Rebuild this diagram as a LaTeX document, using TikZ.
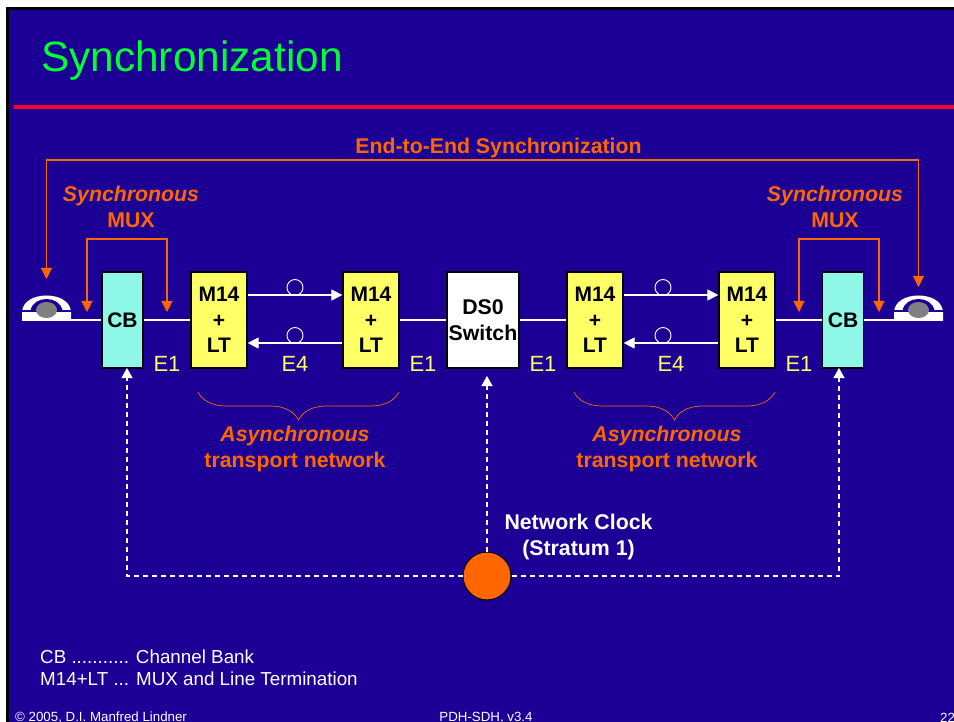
\documentclass[tikz,border=0pt]{standalone}
\usepackage{fontspec}
\setmainfont{Liberation Sans}
\usetikzlibrary{arrows.meta, decorations.pathreplacing}

\definecolor{slideblue}{HTML}{1C0096}
\definecolor{titlegreen}{HTML}{00FF33}
\definecolor{rulered}{HTML}{FF0033}
\definecolor{syncorange}{HTML}{FF6600}
\definecolor{labelyellow}{HTML}{FFFF66}
\definecolor{bankcyan}{HTML}{8FF7E8}

\tikzset{
	bank/.style = {draw = black, line width = 1.2pt, fill = bankcyan, minimum width = 41pt, minimum height = 96pt, inner sep = 0pt, font = \fontsize{21}{24}\selectfont\bfseries},
	mux/.style = {draw = black, line width = 1.2pt, fill = labelyellow, minimum width = 56pt, minimum height = 96pt, inner sep = 0pt, align = center, font = \fontsize{21}{25.5}\selectfont\bfseries},
	link/.style = {white, line width = 1.1pt},
	linktip/.style = {-{Triangle[width = 11pt, length = 11pt]}},
	sync/.style = {syncorange, line width = 1.1pt, -{Triangle[width = 11pt, length = 11pt]}},
	clockline/.style = {white, line width = 1.2pt, dash pattern = on 5pt off 4pt, -{Triangle[width = 11pt, length = 10pt]}},
	loopmark/.style = {circle, draw = white, line width = 0.9pt, minimum size = 16pt, inner sep = 0pt},
	rate/.style = {labelyellow, inner sep = 0pt, font = \fontsize{22}{24}\selectfont},
	orangetext/.style = {syncorange, inner sep = 0pt, align = center, font = \fontsize{21.3}{26}\selectfont\bfseries},
	transportbrace/.style = {syncorange, line width = 0.7pt, decorate, decoration = {brace, mirror, amplitude = 28pt}},
	legendtext/.style = {white, inner sep = 0pt, anchor = west, font = \fontsize{18.8}{22}\selectfont},
	foot/.style = {white, inner sep = 0pt, font = \fontsize{13.3}{14}\selectfont}
}

\begin{document}
\begin{tikzpicture}[x = 1pt, y = -1pt]
	\useasboundingbox (0,0) rectangle (954,722);
	
	% slide
	\fill [white] (0,0) rectangle (954,722);
	\fill [black] (6,7) rectangle (954,722);
	\fill [slideblue] (9,10) rectangle (954,722);
	\draw [rulered, line width = 4pt] (14,106.7) -- (954,106.7);
	\node [titlegreen, inner sep = 0pt, font = \fontsize{42.4}{48}\selectfont] (title) at (192,61) {Synchronization};
	
	% equipment
	\node [bank] (cb left) at (122.5,320) {CB};
	\node [mux] (mux a) at (219,320) {M14\\+\\LT};
	\node [mux] (mux b) at (371,320) {M14\\+\\LT};
	\node [draw = black, line width = 1.2pt, fill = white, minimum width = 72pt, minimum height = 96pt, inner sep = 0pt, align = center, font = \fontsize{21.3}{25.5}\selectfont\bfseries] (switch) at (483,320) {DS0\\Switch};
	\node [mux] (mux c) at (595,320) {M14\\+\\LT};
	\node [mux] (mux d) at (747,320) {M14\\+\\LT};
	\node [bank] (cb right) at (843,320) {CB};
	
	% telephones
	\coordinate (phone left) at (46.5,320);
	\coordinate (phone right) at (918.5,320);
	\foreach \p in {phone left, phone right} {
		\begin{scope}[shift = {(\p)}]
			\fill [white] (-24.5,1) -- (-24.5,-8) .. controls (-24,-19) and (-12,-24.5) .. (0,-24.5) .. controls (12,-24.5) and (24,-19) .. (24.5,-8) -- (24.5,1) -- cycle;
			\fill [slideblue] (-24.5,-9.5) rectangle (24.5,-8);
			\fill [slideblue] (-16,-9) .. controls (-14,-25) and (14,-25) .. (16,-9) -- (16,-8) -- (-16,-8) -- cycle;
			\fill [gray] (0,-10) ellipse [x radius = 10.5, y radius = 8];
		\end{scope}
	}
	\coordinate (phone left end) at (71,320);
	\coordinate (phone right end) at (894,320);
	
	% lines
	\coordinate (upper) at (0,295);
	\coordinate (lower) at (0,343);
	\draw [link] (phone left end) -- (cb left);
	\draw [link] (cb left) -- (mux a);
	\draw [link] (mux b) -- (switch);
	\draw [link] (switch) -- (mux c);
	\draw [link] (mux d) -- (cb right);
	\draw [link] (cb right) -- (phone right end);
	\draw [link, linktip] (mux a.east |- upper) -- (mux b.west |- upper);
	\draw [link, linktip] (mux b.west |- lower) -- (mux a.east |- lower);
	\draw [link, linktip] (mux c.east |- upper) -- (mux d.west |- upper);
	\draw [link, linktip] (mux d.west |- lower) -- (mux c.east |- lower);
	\node [loopmark] (mark a) at (295,287.5) {};
	\node [loopmark] (mark b) at (295,335.5) {};
	\node [loopmark] (mark c) at (663,287.5) {};
	\node [loopmark] (mark d) at (663,335.5) {};
	
	% synchronization
	\coordinate (end left) at (46.5,279);
	\coordinate (end right) at (918.5,287);
	\coordinate (end top) at (46.5,160);
	\draw [sync] (end top -| end right) -- (end top -| end left) -- (end left);
	\draw [sync] (end top -| end left) -- (end top -| end right) -- (end right);
	
	\coordinate (mux left a) at (87,312);
	\coordinate (mux left b) at (167,312);
	\coordinate (mux right a) at (799,312);
	\coordinate (mux right b) at (879,312);
	\coordinate (mux top) at (0,239);
	\draw [sync] (mux left b |- mux top) -- (mux left a |- mux top) -- (mux left a);
	\draw [sync] (mux left a |- mux top) -- (mux left b |- mux top) -- (mux left b);
	\draw [sync] (mux right b |- mux top) -- (mux right a |- mux top) -- (mux right a);
	\draw [sync] (mux right a |- mux top) -- (mux right b |- mux top) -- (mux right b);
	
	\node [orangetext] (end label) at (498.5,148) {End-to-End Synchronization};
	\node [orangetext] (mux label left) at (131,207) {\textit{Synchronous}\\MUX};
	\node [orangetext] (mux label right) at (835,207) {\textit{Synchronous}\\MUX};
	
	% rates
	\node [rate] (rate a) at (167,364) {E1};
	\node [rate] (rate b) at (295,364) {E4};
	\node [rate] (rate c) at (423,364) {E1};
	\node [rate] (rate d) at (543,364) {E1};
	\node [rate] (rate e) at (671,364) {E4};
	\node [rate] (rate f) at (799,364) {E1};
	
	% transport
	\draw [transportbrace] (198,392) -- (399,392);
	\draw [transportbrace] (574,392) -- (775,392);
	\node [orangetext] (async left) at (295,449) {\textit{Asynchronous}\\transport network};
	\node [orangetext] (async right) at (667,449) {\textit{Asynchronous}\\transport network};
	
	% clock
	\node [circle, draw = black, line width = 1pt, fill = syncorange, minimum size = 48pt, inner sep = 0pt] (clock) at (487,576) {};
	\coordinate (sync left) at (127,368);
	\coordinate (sync mid) at (487,376);
	\coordinate (sync right) at (839,368);
	\draw [clockline] (clock.west) -| (sync left);
	\draw [clockline] (clock.north) -- (sync mid);
	\draw [clockline] (clock.east) -| (sync right);
	\node [white, inner sep = 0pt, align = center, font = \fontsize{21.3}{26}\selectfont\bfseries] (clock label) at (578.5,537) {Network Clock\\(Stratum 1)};
	
	% legend
	\node [legendtext] (legend a) at (40,657) {CB ........... Channel Bank};
	\node [legendtext] (legend b) at (40,679) {M14+LT ... MUX and Line Termination};
	
	% footer
	\node [foot, anchor = west] (foot left) at (15,718) {© 2005, D.I. Manfred Lindner};
	\node [foot] (foot mid) at (486,718) {PDH-SDH, v3.4};
	\node [foot, anchor = west] (foot right) at (940,718) {22};
\end{tikzpicture}
\end{document}
